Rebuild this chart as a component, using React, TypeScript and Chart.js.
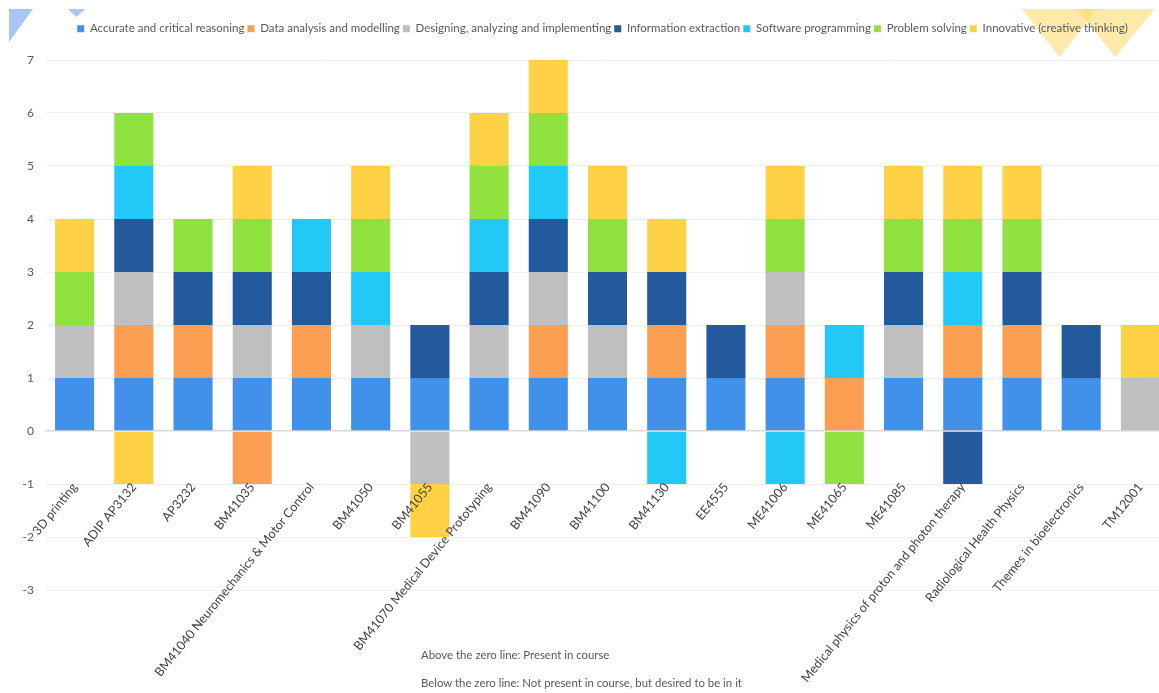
import React, { useEffect, useRef } from "react";
import { Chart, registerables } from "chart.js";

Chart.register(...registerables);

const categories = [
  "3D printing",
  "ADIP AP3132",
  "AP3232",
  "BM41035",
  "BM41040 Neuromechanics & Motor Control",
  "BM41050",
  "BM41055",
  "BM41070 Medical Device Prototyping",
  "BM41090",
  "BM41100",
  "BM41130",
  "EE4555",
  "ME41006",
  "ME41065",
  "ME41085",
  "Medical physics of proton and photon therapy",
  "Radiological Health Physics",
  "Themes in bioelectronics",
  "TM12001",
];

const seriesNames = [
  "Accurate and critical reasoning",
  "Data analysis and modelling",
  "Designing, analyzing and implementing",
  "Information extraction",
  "Software programming",
  "Problem solving",
  "Innovative (creative thinking)",
];

const accurate = [1, 1, 1, 1, 1, 1, 1, 1, 1, 1, 1, 1, 1, 0, 1, 1, 1, 1, 0];
const dataAnalysis = [0, 1, 1, -1, 1, 0, 0, 0, 1, 0, 1, 0, 1, 1, 0, 1, 1, 0, 0];
const designing = [1, 1, 0, 1, 0, 1, -1, 1, 1, 1, 0, 0, 1, 0, 1, 0, 0, 0, 1];
const information = [0, 1, 1, 1, 1, 0, 1, 1, 1, 1, 1, 1, 0, 0, 1, -1, 1, 1, 0];
const software = [0, 1, 0, 0, 1, 1, 0, 1, 1, 0, -1, 0, -1, 1, 0, 1, 0, 0, 0];
const problem = [1, 1, 1, 1, 0, 1, 0, 1, 1, 1, 0, 0, 1, -1, 1, 1, 1, 0, 0];
const innovative = [1, -1, 0, 1, 0, 1, -1, 1, 1, 1, 1, 0, 1, 0, 1, 1, 1, 0, 1];

const seriesValues = [accurate, dataAnalysis, designing, information, software, problem, innovative];
const seriesColors = ["#4190EA", "#FA9E52", "#BFBFBF", "#235A9E", "#22C8F6", "#90E23E", "#FFD246"];

const yMin = -3;
const yMax = 7;

const noteLines = [
  "Above the zero line: Present in course",
  "Below the zero line: Not present in course, but desired to be in it",
];

const tri = (left: number, top: number, w: number, h: number, poly: string, color: string): React.CSSProperties => ({
  position: "absolute",
  left,
  top,
  width: w,
  height: h,
  background: color,
  clipPath: poly,
});

export default function App() {
  const ref = useRef<HTMLCanvasElement>(null);

  useEffect(() => {
    if (!ref.current) return;
    Chart.defaults.font.family = "Lato, 'Open Sans', sans-serif";
    const chart = new Chart(ref.current, {
      type: "bar",
      data: {
        labels: categories,
        datasets: seriesNames.map((name, i) => ({
          label: name,
          data: seriesValues[i],
          backgroundColor: seriesColors[i],
          borderWidth: 0,
          barPercentage: 0.66,
          categoryPercentage: 1.0,
        })),
      },
      options: {
        animation: false,
        responsive: true,
        maintainAspectRatio: false,
        layout: { padding: { top: 20, left: 0, right: 0, bottom: 103 } },
        plugins: {
          legend: {
            position: "top",
            weight: 3000,
            labels: {
              boxWidth: 7,
              boxHeight: 7,
              padding: 3,
              color: "#595959",
              font: { size: 11.5 },
            },
          } as any,
          title: {
            display: true,
            text: "",
            padding: 0,
            font: { size: 15.5, lineHeight: 1 },
          },
          tooltip: { enabled: false },
        },
        scales: {
          x: {
            stacked: true,
            position: { y: -1 } as any,
            grid: { display: false },
            border: { display: false },
            ticks: {
              z: 1,
              autoSkip: false,
              minRotation: 51,
              maxRotation: 51,
              padding: -12,
              color: "#404040",
              font: { size: 12.5 },
            },
            afterFit: (s: any) => {
              s.height = 18;
            },
          },
          y: {
            stacked: true,
            min: yMin,
            max: yMax,
            ticks: { stepSize: 1, padding: 11, color: "#595959", font: { size: 12 } },
            grid: {
              drawTicks: false,
              color: (ctx: any) => (ctx.tick && ctx.tick.value === 0 ? "#d9d9d9" : "#f0f0f0"),
              lineWidth: (ctx: any) => (ctx.tick && ctx.tick.value === 0 ? 1.5 : 1),
            },
            border: { display: false },
            afterFit: (s: any) => {
              s.width = 45;
            },
          },
          yR: {
            position: "right",
            display: true,
            grid: { display: false },
            border: { display: false },
            ticks: { display: false },
            afterFit: (s: any) => {
              s.width = 35;
            },
          },
        },
      } as any,
    });
    return () => chart.destroy();
  }, []);

  return (
    <div
      style={{
        position: "fixed",
        left: 0,
        top: 0,
        width: "100vw",
        height: "100vh",
        overflow: "hidden",
        background: "#ffffff",
      }}
    >
      <div style={tri(9, 9, 24, 33, "polygon(0 0, 100% 0, 0 100%)", "#A9C5F5")} />
      <div style={tri(68, 9, 17, 8, "polygon(0 0, 100% 0, 50% 100%)", "#A9C5F5")} />
      <div style={tri(1022, 9, 75, 48, "polygon(0 0, 100% 0, 50% 100%)", "rgba(255,214,90,0.5)")} />
      <div style={tri(1077, 9, 78, 48, "polygon(0 0, 100% 0, 49% 100%)", "rgba(255,214,90,0.5)")} />
      <div style={{ position: "absolute", left: 0, top: 0, width: 1205, height: 693 }}>
        <canvas ref={ref} />
      </div>
      {noteLines.map((t, i) => (
        <div
          key={i}
          style={{
            position: "absolute",
            left: 421,
            top: 647 + i * 28,
            fontFamily: "Lato, sans-serif",
            fontSize: 11.4,
            lineHeight: "16px",
            color: "#595959",
            whiteSpace: "nowrap",
          }}
        >
          {t}
        </div>
      ))}
    </div>
  );
}
